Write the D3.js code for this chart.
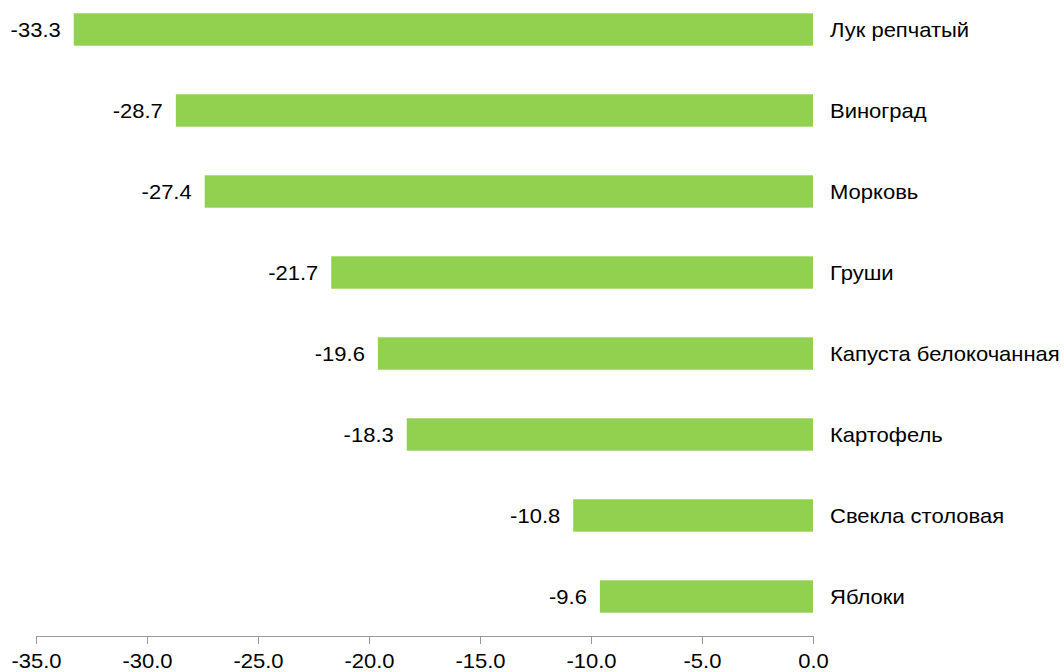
<!DOCTYPE html>
<html><head><meta charset="utf-8">
<script src="https://cdn.jsdelivr.net/npm/d3@7"></script>
<style>body{margin:0;background:#fff}svg{display:block}text{font-family:"Liberation Sans",Arial,sans-serif}</style>
</head><body>
<svg id="c" width="1064" height="672"></svg>
<script>
const categories = ["Лук репчатый","Виноград","Морковь","Груши","Капуста белокочанная","Картофель","Свекла столовая","Яблоки"];
const values = [-33.3,-28.7,-27.4,-21.7,-19.6,-18.3,-10.8,-9.6];
const xTicks = [-35,-30,-25,-20,-15,-10,-5,0];

const svg = d3.select("#c");
const x = d3.scaleLinear().domain([-35,0]).range([36,813]);
const y = d3.scaleBand().domain(categories).range([-11,637]).paddingInner(0.6).paddingOuter(0.3);
const data = categories.map((c,i)=>({c, v: values[i]}));
const sx = 1.1;

svg.selectAll("rect.bar").data(data).join("rect").attr("class","bar")
  .attr("x", d=>x(d.v)).attr("width", d=>x(0)-x(d.v))
  .attr("y", d=>y(d.c)).attr("height", y.bandwidth())
  .attr("fill","#92d050");

svg.selectAll("text.val").data(data).join("text").attr("class","val")
  .attr("transform", d=>`translate(${x(d.v)-13},${y(d.c)+y.bandwidth()/2}) scale(${sx},1)`)
  .attr("dy","0.35em").attr("text-anchor","end")
  .attr("font-size",20).attr("fill","#000").text(d=>d.v.toFixed(1));

svg.selectAll("text.cat").data(data).join("text").attr("class","cat")
  .attr("transform", d=>`translate(830,${y(d.c)+y.bandwidth()/2}) scale(${sx},1)`)
  .attr("dy","0.35em").attr("font-size",20).attr("fill","#000").text(d=>d.c);

const ax = svg.append("g").attr("transform","translate(0,636)")
  .call(d3.axisBottom(x).tickValues(xTicks).tickSize(8).tickPadding(10).tickFormat(d=>d.toFixed(1)));
ax.select(".domain").attr("stroke","#999");
ax.selectAll(".tick line").attr("stroke","#999");
ax.selectAll(".tick text").attr("font-size",20).attr("fill","#000")
  .attr("transform", `scale(${sx},1)`).attr("x", 0);
</script>
</body></html>
